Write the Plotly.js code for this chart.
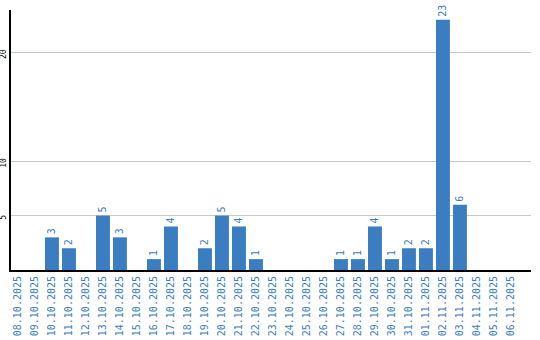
<!DOCTYPE html>
<html>
<head>
<meta charset="utf-8">
<script src="https://cdn.plot.ly/plotly-3.0.1.min.js"></script>
<style>html,body{margin:0;padding:0;background:#fff;}#chart{width:540px;height:340px;}</style>
</head>
<body>
<div id="chart"></div>
<script>
const dates = ["08.10.2025","09.10.2025","10.10.2025","11.10.2025","12.10.2025","13.10.2025","14.10.2025","15.10.2025","16.10.2025","17.10.2025","18.10.2025","19.10.2025","20.10.2025","21.10.2025","22.10.2025","23.10.2025","24.10.2025","25.10.2025","26.10.2025","27.10.2025","28.10.2025","29.10.2025","30.10.2025","31.10.2025","01.11.2025","02.11.2025","03.11.2025","04.11.2025","05.11.2025","06.11.2025"];
const counts = [0,0,3,2,0,5,3,0,1,4,0,2,5,4,1,0,0,0,0,1,1,4,1,2,2,23,6,0,0,0];
const yTicks = [5,10,20];

const barColor = "#3b7dc1";
const trace = {
  type: "bar",
  x: dates,
  y: counts,
  text: counts.map(v => v ? String(v) : ""),
  textposition: "outside",
  textangle: -90,
  cliponaxis: false,
  textfont: {family: "DejaVu Sans Mono", size: 10, color: barColor},
  marker: {color: barColor},
  hoverinfo: "none"
};
const layout = {
  width: 540, height: 340,
  margin: {l: 11, r: 9, t: 10, b: 70},
  paper_bgcolor: "#fff", plot_bgcolor: "#fff",
  showlegend: false,
  bargap: 0.18,
  font: {family: "DejaVu Sans Mono"},
  xaxis: {
    type: "category",
    range: [-0.41, 30.18],
    tickangle: -90,
    tickfont: {family: "DejaVu Sans Mono", size: 10, color: barColor},
    showline: true, linecolor: "#000", linewidth: 2,
    showgrid: false, ticks: "", zeroline: false
  },
  yaxis: {
    range: [0, 23.9],
    tickvals: yTicks,
    ticktext: yTicks.map(String),
    tickangle: -90,
    ticklabelshift: 3,
    tickfont: {family: "DejaVu Sans Mono", size: 8, color: "#000"},
    showline: true, linecolor: "#000", linewidth: 2,
    showgrid: true, gridcolor: "#c8c8c8", gridwidth: 1,
    ticks: "", zeroline: false
  }
};
Plotly.newPlot("chart", [trace], layout, {staticPlot: true, displayModeBar: false});
</script>
</body>
</html>
